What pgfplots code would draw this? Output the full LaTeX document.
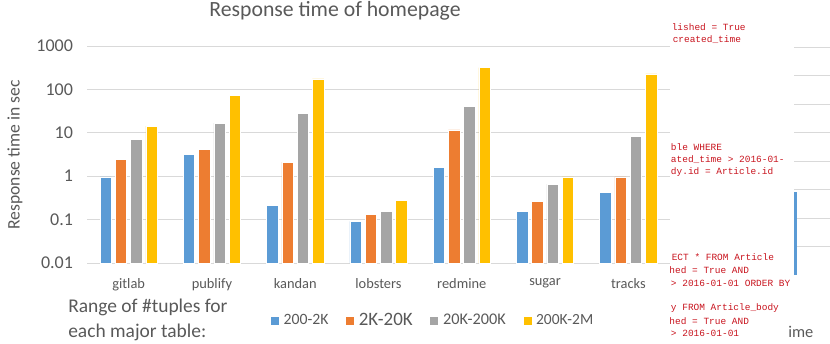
\documentclass[border=0pt]{standalone}
\usepackage{fontspec}
\setmainfont{Carlito}
\newfontfamily\mono{Liberation Mono}
\usepackage{pgfplots}
\pgfplotsset{compat=1.18}
\definecolor{cblue}{HTML}{5B9BD5}
\definecolor{corange}{HTML}{ED7D31}
\definecolor{cgray}{HTML}{A5A5A5}
\definecolor{cyellow}{HTML}{FFC000}
\definecolor{txt}{HTML}{595959}
\definecolor{gridc}{HTML}{D9D9D9}
\definecolor{sqlred}{RGB}{200,20,30}
\begin{document}
\begin{tikzpicture}
\path[use as bounding box] (0,0) rectangle (622.5pt,-257.25pt);
\clip (0,0) rectangle (622.5pt,-257.25pt);
\begin{axis}[
  at={(65.25pt,-197.25pt)}, anchor=south west,
  scale only axis, width=437.25pt, height=162.75pt,
  ymode=log, ymin=0.01, ymax=1000, log origin y=infty,
  xmin=-0.5, xmax=6.5,
  xtick={0,...,6},
  xticklabels={gitlab,publify,kandan,lobsters,redmine,sugar,tracks},
  ytick={0.01,0.1,1,10,100,1000},
  yticklabels={0.01,0.1,1,10,100,1000},
  ymajorgrids, major grid style={gridc, line width=0.75pt},
  axis lines*=left,
  x axis line style={gridc, line width=0.75pt},
  y axis line style={draw=none},
  tick style={draw=none},
  ticklabel style={text=txt},
  xticklabel style={font=\fontsize{10.8}{12}\selectfont, yshift=-4pt},
  yticklabel style={font=\fontsize{13.5}{15}\selectfont, xshift=-7pt},
  /pgf/number format/assume math mode=true,
  ybar=2.85pt, bar width=8.6pt,
  legend columns=4,
  legend image code/.code={\fill[#1] (0pt,-3.4pt) rectangle (6.8pt,3.4pt);},
  legend style={at={(0.3135,-0.265)}, anchor=west, draw=none, fill=none,
    inner sep=0pt, text=txt,
    /tikz/every odd column/.append style={column sep=1pt},
    /tikz/every even column/.append style={column sep=10.5pt}},
]
\addplot[fill=cblue, draw=white, line width=0.4pt] coordinates {(0,0.96) (1,3.2) (2,0.217) (3,0.091) (4,1.59) (5,0.153) (6,0.43)};
\addlegendentry{\fontsize{11.8}{13}\selectfont 200-2K}
\addplot[fill=corange, draw=white, line width=0.4pt] coordinates {(0,2.47) (1,4.2) (2,2.1) (3,0.13) (4,11.7) (5,0.26) (6,0.96)};
\addlegendentry{\fontsize{14.2}{15}\selectfont 2K-20K}
\addplot[fill=cgray, draw=white, line width=0.4pt] coordinates {(0,7.0) (1,16.8) (2,28) (3,0.153) (4,40) (5,0.66) (6,8.4)};
\addlegendentry{\fontsize{12.2}{13}\selectfont 20K-200K}
\addplot[fill=cyellow, draw=white, line width=0.4pt] coordinates {(0,14.3) (1,73) (2,174) (3,0.28) (4,317) (5,0.96) (6,227)};
\addlegendentry{\fontsize{11.6}{13}\selectfont 200K-2M}
\end{axis}
% partial chart at the right edge
\begin{axis}[
  at={(595.5pt,-206.25pt)}, anchor=south west,
  scale only axis, width=42pt, height=171pt,
  xmin=0, xmax=1, ymin=0, ymax=8,
  ytick={1,...,8}, yticklabels={}, xtick=\empty,
  ymajorgrids, major grid style={gridc, line width=0.75pt},
  axis line style={draw=none}, tick style={draw=none},
  ybar, bar width=18pt,
]
\addplot[fill=cblue, draw=none] coordinates {(-0.16,2.9)};
\end{axis}
\begin{scope}[x=0.75pt,y=-0.75pt]
\node[text=txt, font=\fontsize{16.3}{18}\selectfont] at (335,11) {Response time of homepage};
\node[text=txt, font=\fontsize{13.2}{15}\selectfont, rotate=90] at (15,155) {Response time in sec};
\node[text=txt, font=\fontsize{14.6}{18.75}\selectfont, anchor=west, align=left, inner sep=0pt] at (68,320) {Range of \#tuples for\\each major table:};
\node[text=txt, font=\fontsize{12.3}{14}\selectfont, anchor=west, inner sep=0pt] at (788,332) {ime};
\begin{scope}
\clip (670.5,0) rectangle (794,343);
\tikzset{sql/.style={text=sqlred, font=\mono\fontsize{7.1}{8}\selectfont, anchor=west, inner sep=0pt}}
\node[sql] at (671.5,27) {lished = True};
\node[sql] at (672.5,40) {created\_time};
\node[sql] at (670.7,147) {ble WHERE};
\node[sql] at (670.7,160) {ated\_time > 2016-01-};
\node[sql] at (670.7,172) {dy.id = Article.id};
\node[sql] at (671.5,257) {ECT * FROM Article};
\node[sql] at (669.2,270) {hed = True AND};
\node[sql] at (670.7,283) {> 2016-01-01 ORDER BY};
\node[sql] at (670.7,308) {y FROM Article\_body};
\node[sql] at (669.2,321) {hed = True AND};
\node[sql] at (670.7,333) {> 2016-01-01};
\end{scope}
\end{scope}
\end{tikzpicture}
\end{document}
